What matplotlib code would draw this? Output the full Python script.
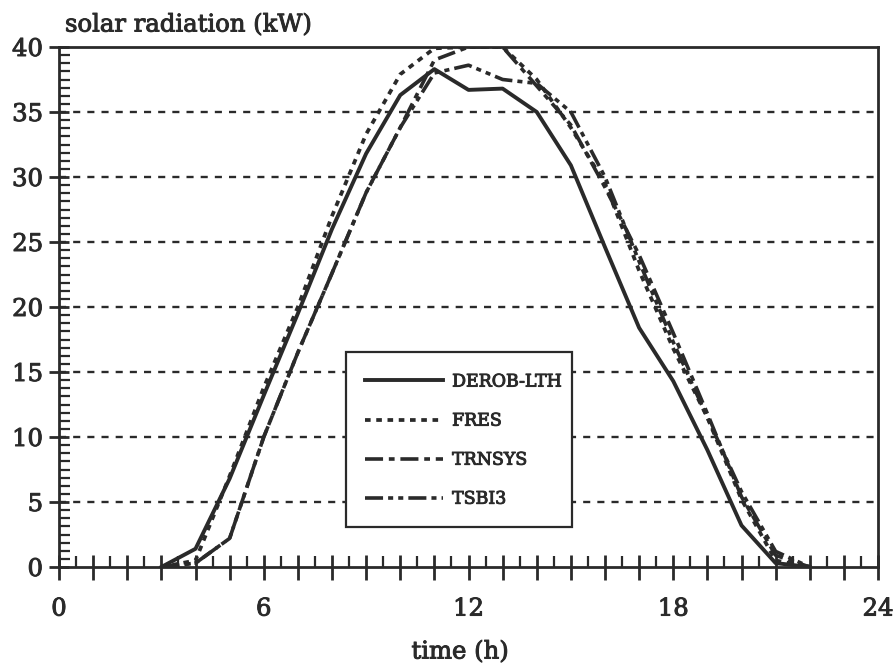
import numpy as np
import matplotlib
matplotlib.use("Agg")
import matplotlib.pyplot as plt
import matplotlib.patheffects as pe
from matplotlib.patches import Rectangle
from matplotlib.ticker import MultipleLocator, FixedLocator

plt.rcParams['font.family'] = ['DejaVu Serif']

ink = '#2a2a2a'
thick = [pe.withStroke(linewidth=0.7, foreground=ink)]

# hours of the day
hours = [3, 4, 5, 6, 7, 8, 9, 10, 11, 12, 13, 14, 15, 16, 17, 18, 19, 20, 21, 22]

# solar radiation (kW)
derob = [0.0, 1.4, 6.8, 13.2, 19.5, 26.0, 31.8, 36.3, 38.3, 36.7, 36.8, 35.0,
         30.9, 24.6, 18.4, 14.3, 9.0, 3.2, 0.3, 0.0]
fres = [0.0, 0.5, 7.0, 13.8, 20.0, 27.0, 33.3, 37.9, 39.9, 40.0, 40.0, 37.5,
        33.8, 29.5, 22.8, 16.8, 11.5, 5.2, 0.5, 0.0]
trnsys = [0.0, 0.3, 2.2, 10.0, 16.5, 22.6, 28.8, 33.8, 39.0, 40.0, 40.0, 37.0,
          34.0, 29.2, 24.0, 18.0, 11.8, 5.4, 0.9, 0.0]
tsbi3 = [0.0, 0.3, 2.2, 10.0, 16.5, 22.6, 28.8, 33.8, 38.0, 38.6, 37.5, 37.2,
         35.0, 30.0, 23.5, 17.3, 11.5, 5.8, 1.2, 0.0]

fig = plt.figure(figsize=(8.96, 6.66), dpi=100)
ax = fig.add_axes([59/896, 1-567/666, (878-59)/896, (567-47)/666])

# dashed horizontal guide lines
for yv in range(5, 40, 5):
    ax.axhline(yv, color=ink, lw=1.7, ls=(0, (3, 3)), zorder=1)

ax.plot(hours, derob, color=ink, lw=2.8, ls='-', label='DEROB-LTH')
ax.plot(hours, fres, color=ink, lw=2.7, ls=(0, (1.5, 1.5)), label='FRES')
ax.plot(hours, trnsys, color=ink, lw=2.6, ls=(0, (5, 1.6, 1.6, 1.6)), label='TRNSYS')
ax.plot(hours, tsbi3, color=ink, lw=2.6, ls=(0, (5, 1.4, 1.4, 1.4, 1.4, 1.4)), label='TSBI3')

ax.set_xlim(0, 24)
ax.set_ylim(0, 40)

for s in ax.spines.values():
    s.set_color(ink)
    s.set_linewidth(2.0)

ax.xaxis.set_major_locator(FixedLocator(range(0, 25)))
ax.xaxis.set_major_formatter(plt.FuncFormatter(lambda v, p: str(int(v)) if v % 6 == 0 else ''))
ax.xaxis.set_minor_locator(MultipleLocator(0.5))
ax.yaxis.set_major_locator(MultipleLocator(5))
ax.yaxis.set_minor_locator(MultipleLocator(0.625))

ax.tick_params(axis='x', which='major', direction='inout', length=18, width=2,
               color=ink, labelsize=17.5, labelcolor=ink, pad=13)
ax.tick_params(axis='x', which='minor', direction='in', length=8, width=1.6, color=ink)
ax.tick_params(axis='y', which='major', direction='inout', length=15, width=2,
               color=ink, labelsize=17.5, labelcolor=ink, pad=4)
ax.tick_params(axis='y', which='minor', direction='in', length=8, width=1.6, color=ink)
ax.tick_params(top=False, right=False)
for t in ax.get_xticklabels() + ax.get_yticklabels():
    t.set_path_effects(thick)

# legend box drawn separately so the text sits close to its right edge
box = Rectangle((0.3504, 0.077), 0.276, 0.3365, transform=ax.transAxes,
                facecolor='white', edgecolor=ink, lw=1.6, zorder=4)
ax.add_patch(box)
leg = ax.legend(loc='upper left', bbox_to_anchor=(0.374, 0.372), fontsize=12.5,
                handlelength=4.5, handletextpad=0.5, labelspacing=1.27,
                borderpad=0, frameon=False, borderaxespad=0)
leg.set_zorder(5)
for t in leg.get_texts():
    t.set_color(ink)
    t.set_path_effects(thick)

fig.text(65/896, 1-25/666, 'solar radiation (kW)', fontsize=17.5, color=ink,
         ha='left', va='center', path_effects=thick)
fig.text(460/896, 1-652/666, 'time (h)', fontsize=17.5, color=ink,
         ha='center', va='center', path_effects=thick)

fig.savefig('out.png', dpi=100)
